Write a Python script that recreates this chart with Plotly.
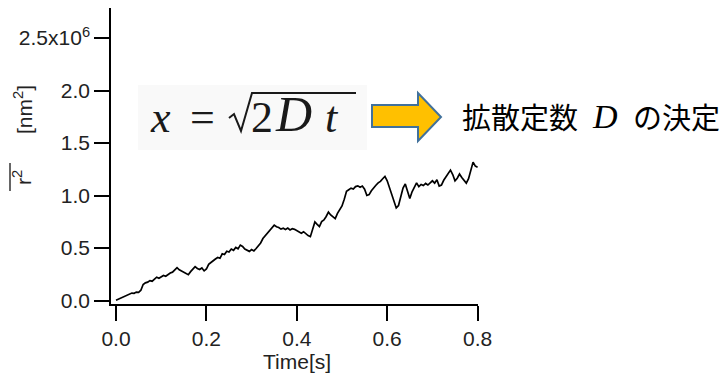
import plotly.graph_objects as go

# ---- data ----
time_s = [round(i * 0.005, 3) for i in range(161)]
msd_1e6_nm2 = [
    0.003, 0.012, 0.025, 0.035, 0.042, 0.055, 0.062, 0.071, 0.068, 0.080,
    0.078, 0.098, 0.152, 0.168, 0.175, 0.190, 0.184, 0.205, 0.222, 0.212,
    0.228, 0.238, 0.231, 0.248, 0.262, 0.270, 0.295, 0.312, 0.292, 0.280,
    0.268, 0.252, 0.246, 0.275, 0.300, 0.322, 0.305, 0.295, 0.310, 0.282,
    0.300, 0.345, 0.362, 0.375, 0.395, 0.410, 0.402, 0.445, 0.438, 0.470,
    0.462, 0.490, 0.478, 0.505, 0.492, 0.528, 0.515, 0.490, 0.478, 0.468,
    0.485, 0.472, 0.495, 0.520, 0.548, 0.590, 0.615, 0.642, 0.665, 0.690,
    0.718, 0.702, 0.695, 0.680, 0.688, 0.676, 0.690, 0.672, 0.684, 0.678,
    0.665, 0.652, 0.640, 0.655, 0.632, 0.618, 0.608, 0.690, 0.748, 0.725,
    0.705, 0.752, 0.768, 0.800, 0.842, 0.815, 0.795, 0.780, 0.830, 0.862,
    0.900, 0.965, 1.040, 1.055, 1.070, 1.062, 1.085, 1.092, 1.078, 1.090,
    1.060, 1.000, 1.008, 1.045, 1.075, 1.098, 1.120, 1.135, 1.160, 1.182,
    1.140, 1.080, 1.020, 0.945, 0.882, 0.905, 0.990, 1.070, 1.110, 1.040,
    0.972, 1.035, 1.080, 1.120, 1.085, 1.105, 1.095, 1.115, 1.100, 1.125,
    1.140, 1.118, 1.150, 1.090, 1.100, 1.145, 1.175, 1.210, 1.242, 1.200,
    1.140, 1.165, 1.205, 1.172, 1.150, 1.118, 1.160, 1.250, 1.318, 1.280,
    1.270,
]
x_tickvals = [0.0, 0.2, 0.4, 0.6, 0.8]
x_ticktext = ["0.0", "0.2", "0.4", "0.6", "0.8"]
y_tickvals = [0.0, 0.5, 1.0, 1.5, 2.0, 2.5]
y_ticktext = ["0.0", "0.5", "1.0", "1.5", "2.0", "2.5x10<sup>6</sup>"]

# the page body has an 8px margin: lay out in page pixels and subtract it
OFF = 8
W, H = 727 - OFF, 375 - OFF
L, R, T, B = 111 - OFF, 478 - OFF, 8 - OFF, 304 - OFF
PW, PH = R - L, B - T


def px(x):
    return (x - OFF - L) / PW


def py(y):
    return (B - (y - OFF)) / PH


TICKFONT = dict(family="Liberation Sans, Arial", size=21, color="#222")

fig = go.Figure()
fig.add_trace(go.Scatter(x=time_s, y=msd_1e6_nm2, mode="lines",
                         line=dict(color="black", width=1.7), showlegend=False))

fig.update_layout(
    width=W, height=H,
    margin=dict(l=L, r=W - R, t=T, b=H - B, pad=0),
    paper_bgcolor="white", plot_bgcolor="white",
    xaxis=dict(range=[-0.0111, 0.8009], tickvals=x_tickvals, ticktext=x_ticktext,
               showline=True, linecolor="black", linewidth=1.5, ticks="outside",
               ticklen=15, tickwidth=1.5, tickcolor="black", showgrid=False,
               zeroline=False, tickfont=TICKFONT),
    yaxis=dict(range=[-0.0333, 2.786], tickvals=y_tickvals, ticktext=y_ticktext,
               showline=True, linecolor="black", linewidth=1.5, ticks="outside",
               ticklen=15, tickwidth=1.5, tickcolor="black", showgrid=False,
               zeroline=False, tickfont=TICKFONT),
)

annotations = []
shapes = []

# axis titles
annotations.append(dict(x=px(297), y=py(361), xref="paper", yref="paper",
                        text="Time[s]", showarrow=False, xanchor="center", yanchor="middle",
                        font=TICKFONT))
annotations.append(dict(x=px(22), y=py(178), xref="paper", yref="paper",
                        text="r<sup>2</sup>", textangle=-90, showarrow=False,
                        xanchor="center", yanchor="middle", font=TICKFONT))
annotations.append(dict(x=px(23), y=py(110), xref="paper", yref="paper",
                        text="[nm<sup>2</sup>]", textangle=-90, showarrow=False,
                        xanchor="center", yanchor="middle", font=TICKFONT))
shapes.append(dict(type="line", xref="paper", yref="paper",
                   x0=px(10), x1=px(10), y0=py(163), y1=py(191),
                   line=dict(color="#333", width=1.5)))

# formula box
shapes.append(dict(type="rect", xref="paper", yref="paper",
                   x0=px(138), x1=px(367), y0=py(150), y1=py(85),
                   fillcolor="#f9f9f9", line=dict(width=0), layer="above"))
SERIF = "Liberation Serif, DejaVu Serif, serif"
FORM = dict(family=SERIF, size=44, color="#1a1a1a")
for txt, xl, fs in [("<i>x</i>", 148, 44), ("=", 188, 44), ("2", 249, 44),
                    ("<i>D</i>", 273, 50), ("<i>t</i>", 323, 44)]:
    annotations.append(dict(x=px(xl), y=py(144), xref="paper", yref="paper",
                            text=txt, showarrow=False, xanchor="left", yanchor="bottom",
                            font=dict(FORM, size=fs)))
# radical sign
rad = [(229, 118), (234, 114), (241, 131), (252, 93), (356, 93)]
path = "M " + " L ".join(f"{px(a)},{py(b)}" for a, b in rad)
shapes.append(dict(type="path", xref="paper", yref="paper", path=path,
                   line=dict(color="#1a1a1a", width=2)))

# block arrow
arrow = [(372, 105), (418, 105), (418, 93), (441, 117), (418, 141), (418, 127), (372, 127)]
apath = "M " + " L ".join(f"{px(a)},{py(b)}" for a, b in arrow) + " Z"
shapes.append(dict(type="path", xref="paper", yref="paper", path=apath,
                   fillcolor="#FFC000", line=dict(color="#41719C", width=2)))

CJK = dict(family="Noto Sans CJK JP", size=29, color="black")
annotations.append(dict(x=px(460), y=py(116), xref="paper", yref="paper",
                        text="拡散定数", showarrow=False, xanchor="left", yanchor="middle",
                        font=CJK))
annotations.append(dict(x=px(590), y=py(116), xref="paper", yref="paper",
                        text="<i>D</i>", showarrow=False, xanchor="left", yanchor="middle",
                        font=dict(family=SERIF, size=34, color="black")))
annotations.append(dict(x=px(631), y=py(116), xref="paper", yref="paper",
                        text="の決定", showarrow=False, xanchor="left", yanchor="middle",
                        font=CJK))

fig.update_layout(annotations=annotations, shapes=shapes)
fig.write_html("out.html")
